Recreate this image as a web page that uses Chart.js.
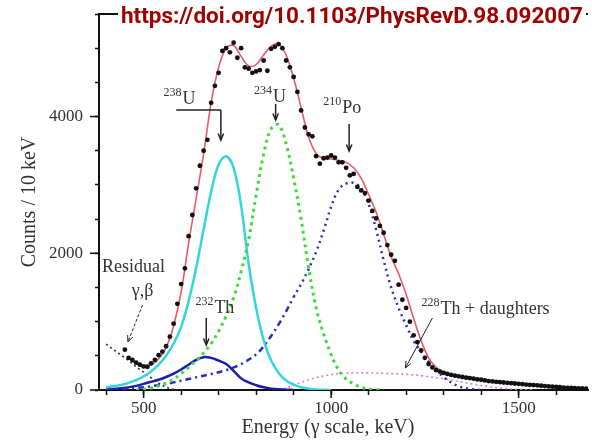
<!DOCTYPE html>
<html>
<head>
<meta charset="utf-8">
<script src="https://cdn.jsdelivr.net/npm/chart.js@4/dist/chart.umd.min.js"></script>
<style>
  html, body { margin: 0; padding: 0; background: #fff; }
  canvas { display: block; }
</style>
</head>
<body>
<canvas id="spectrum" width="592" height="445"></canvas>
<script>
const ctx = document.getElementById('spectrum')

// measured spectrum, counts per 10 keV
const dataE = [450,460,470,480,490,500,510,520,530,540,
  550,560,570,580,590,600,610,620,630,640,
  650,660,670,680,690,700,710,720,730,740,
  750,760,770,780,790,800,810,820,830,840,
  850,860,870,880,890,900,910,920,930,940,
  950,960,970,980,990,1000,1010,1020,1030,1040,
  1050,1060,1070,1080,1090,1100,1110,1120,1130,1140,
  1150,1160,1170,1180,1190,1200,1210,1220,1230,1240,
  1250,1260,1270,1280,1290,1300,1310,1320,1330,1340,
  1350,1360,1370,1380,1390,1400,1410,1420,1430,1440,
  1450,1460,1470,1480,1490,1500,1510,1520,1530,1540,
  1550,1560,1570,1580,1590,1600,1610,1620,1630,1640,
  1650,1660,1670,1680]
const dataCounts = [590,470,440,400,370,345,340,390,440,510,
  560,640,780,970,1260,1550,1780,2250,2560,2950,
  3280,3500,3660,4200,4450,4640,4960,5000,4940,5080,
  4860,5000,4720,4700,4640,4660,4680,4820,4670,4990,
  5020,5060,5000,4820,4720,4580,4360,4090,3840,3740,
  3710,3420,3310,3390,3400,3430,3400,3330,3330,3250,
  3140,3160,2970,2920,2880,2770,2620,2510,2400,2300,
  2120,1980,1890,1540,1320,1200,1000,800,700,580,
  470,380,330,290,270,250,235,220,210,200,
  190,180,175,165,155,150,140,130,125,120,
  115,110,105,100,95,90,85,80,75,72,
  68,62,58,52,48,44,40,36,32,30,
  27,24,22,20]

// total fit
const fitE = [460,480,500,520,540,560,580,600,620,640,
  660,680,700,720,740,760,780,800,820,840,
  860,880,900,920,940,960,980,1000,1020,1040,
  1060,1080,1100,1120,1140,1160,1180,1200,1220,1240,
  1260,1280,1300,1320,1340,1360,1380,1400,1420,1440,
  1460,1480,1500,1520,1540,1560,1580,1600,1620,1640,
  1660,1680]
const fitCounts = [470,385,340,365,455,620,940,1430,2150,2800,
  3450,4200,4720,5000,5040,4880,4740,4760,4900,5030,
  5060,4900,4560,4130,3700,3460,3390,3380,3360,3330,
  3250,3100,2860,2600,2280,1950,1700,1400,1050,720,
  470,330,265,225,200,180,162,148,135,123,
  112,101,91,81,72,63,55,47,40,33,
  27,22]

// 238U component
const u238E = [400,420,440,460,480,500,520,540,560,580,600,620,640,660,680,700,720,740,760,780,800,820,840,860,880,900,920,940,960,980,1000]
const u238 = [40,55,75,105,145,200,270,370,500,680,920,1300,1780,2350,2900,3300,3420,3250,2700,1850,1200,730,430,250,140,80,40,20,8,2,0]

// 234U component
const u234E = [480,500,520,540,560,580,600,620,640,660,680,700,720,740,760,780,800,820,840,860,880,900,920,940,960,980,1000,1020,1040,1060,1080,1100,1120,1140]
const u234 = [0,10,30,60,100,160,240,330,430,540,680,860,1080,1350,1730,2200,2850,3450,3820,3880,3600,3100,2500,1790,1200,820,520,290,160,90,40,15,5,0]

// 210Po component
const po210E = [400,440,480,520,560,600,640,680,720,760,800,820,840,860,880,900,920,940,960,980,1000,1020,1040,1060,1080,1100,1120,1140,1160,1180,1200,1220,1240,1260,1280,1300,1320,1340,1360,1380,1400]
const po210 = [5,15,30,55,90,135,185,235,290,380,520,640,790,960,1150,1360,1550,1770,2020,2330,2680,2930,3020,3030,2950,2720,2350,1900,1500,1200,950,720,560,410,290,190,110,55,25,10,0]

// 232Th component
const th232E = [400,440,480,500,520,540,560,580,600,620,640,660,680,700,720,740,760,780,800,820,840,860,880,900]
const th232 = [10,25,60,90,120,150,190,240,300,370,440,480,470,430,380,280,170,110,70,40,20,10,5,0]

// 228Th + daughters component
const th228E = [860,880,900,920,940,960,980,1000,1020,1040,1060,1080,1100,1120,1140,1160,1180,1200,1220,1240,1260,1280,1300,1320,1340,1360,1380,1400,1420,1440,1460,1480,1500,1520,1540]
const th228 = [0,30,70,110,150,180,205,225,240,248,250,250,250,248,245,240,235,228,220,210,195,180,165,145,125,105,85,65,50,35,25,15,8,3,0]

// residual gamma/beta
const residE = [400,420,440,460,480,500,520,540,560,580,600]
const resid = [670,590,510,430,340,260,180,100,40,10,0]

// axis ticks
const xMinorTicks = [400,500,600,700,800,900,1000,1100,1200,1300,1400,1500,1600]
const xTicks = [500, 1000, 1500]
const yTicks = [0, 2000, 4000]

const xMin = 381
const xMax = 1685
const yMax = 5500

const pts = (xs, ys) => xs.map((x, i) => ({x: x, y: ys[i]}))

const serif = "'Liberation Serif', 'DejaVu Serif', serif"
const ink = '#333'

const line = (label, xs, ys, color, width, dash, order) => ({
    label,
    data: pts(xs, ys),
    borderColor: color,
    borderWidth: width,
    borderDash: dash,
    pointRadius: 0,
    fill: false,
    tension: 0.35,
    order
})

const poLine = line('210Po', po210E, po210, '#2c2cb8', 2.5, [2, 4], 5)
poLine.segment = {
    borderDash: c => c.p0.parsed.x < 900 ? [6, 4, 2, 4] : [2, 4]
}

const datasets = [
    {
        label: 'data',
        data: pts(dataE, dataCounts),
        showLine: false,
        pointRadius: 2.4,
        pointBackgroundColor: '#111',
        pointBorderWidth: 0,
        order: 0
    },
    line('fit', fitE, fitCounts, '#e65c66', 1.6, [], 1),
    line('238U', u238E, u238, '#33d6e0', 2.5, [], 4),
    line('234U', u234E, u234, '#3ddc3d', 3, [3, 4], 3),
    poLine,
    line('232Th', th232E, th232, '#1c1caa', 2.5, [], 6),
    line('228Th', th228E, th228, '#e07ae0', 1.6, [2, 3], 7),
    line('residual', residE, resid, '#333', 1.6, [2, 3], 8),
    line('baseline', [400, xMax], [0, 0], '#111', 1.6, [5, 3], 9)
]

// labels, arrows, titles and the doi stamp
function iso(c, sx, sy, mass, sym, x, y) {
    const px = sx.getPixelForValue(x)
    const py = sy.getPixelForValue(y)
    c.fillStyle = ink
    c.textAlign = 'left'
    c.textBaseline = 'alphabetic'
    c.font = `12px ${serif}`
    c.fillText(mass, px, py - 8)
    const w = c.measureText(mass).width
    c.font = `18px ${serif}`
    c.fillText(sym, px + w + 1, py)
}

function arrow(c, sx, sy, x0, y0, x1, y1, dash, width) {
    const a = {x: sx.getPixelForValue(x0), y: sy.getPixelForValue(y0)}
    const b = {x: sx.getPixelForValue(x1), y: sy.getPixelForValue(y1)}
    c.save()
    c.strokeStyle = '#222'
    c.lineWidth = width
    c.setLineDash(dash)
    c.beginPath()
    c.moveTo(a.x, a.y)
    c.lineTo(b.x, b.y)
    c.stroke()
    c.setLineDash([])
    const ang = Math.atan2(b.y - a.y, b.x - a.x)
    c.beginPath()
    c.moveTo(b.x - 7 * Math.cos(ang - 0.4), b.y - 7 * Math.sin(ang - 0.4))
    c.lineTo(b.x, b.y)
    c.lineTo(b.x - 7 * Math.cos(ang + 0.4), b.y - 7 * Math.sin(ang + 0.4))
    c.stroke()
    c.restore()
}

const notes = {
    id: 'notes',
    afterDraw(chart) {
        const c = chart.ctx
        const {left, top, right, bottom} = chart.chartArea
        const sx = chart.scales.x
        const sy = chart.scales.y
        c.save()

        // top frame line
        c.strokeStyle = '#111'
        c.lineWidth = 2
        c.beginPath()
        c.moveTo(left - 1, top)
        c.lineTo(right, top)
        c.stroke()

        // longer major ticks and the x tick labels
        c.lineWidth = 1.5
        c.font = `17px ${serif}`
        c.fillStyle = ink
        c.textAlign = 'center'
        c.textBaseline = 'middle'
        xTicks.forEach(v => {
            const p = sx.getPixelForValue(v)
            c.beginPath(); c.moveTo(p, bottom); c.lineTo(p, bottom + 8); c.stroke()
            c.fillText(String(v), p, bottom + 19)
        })
        yTicks.forEach(v => {
            const p = sy.getPixelForValue(v)
            c.beginPath(); c.moveTo(left, p); c.lineTo(left - 9, p); c.stroke()
        })

        iso(c, sx, sy, '238', 'U', 553, 4184)
        iso(c, sx, sy, '234', 'U', 794, 4213)
        iso(c, sx, sy, '210', 'Po', 979, 4052)
        iso(c, sx, sy, '232', 'Th', 638, 1126)
        iso(c, sx, sy, '228', 'Th + daughters', 1241, 1112)

        c.font = `18px ${serif}`
        c.fillStyle = ink
        c.textAlign = 'left'
        c.fillText('Residual', sx.getPixelForValue(389), sy.getPixelForValue(1726))
        c.textAlign = 'center'
        c.fillText('γ,β', sx.getPixelForValue(497), sy.getPixelForValue(1375))

        // 238U bracket arrow
        c.strokeStyle = '#222'
        c.lineWidth = 1.5
        c.beginPath()
        c.moveTo(sx.getPixelForValue(587), sy.getPixelForValue(4096))
        c.lineTo(sx.getPixelForValue(706), sy.getPixelForValue(4096))
        c.stroke()
        arrow(c, sx, sy, 706, 4096, 706, 3657, [], 1.5)
        arrow(c, sx, sy, 852, 4184, 852, 3950, [], 1.5)
        arrow(c, sx, sy, 1048, 3891, 1048, 3496, [], 1.5)
        arrow(c, sx, sy, 667, 1053, 667, 658, [], 1.5)
        arrow(c, sx, sy, 497, 1243, 458, 702, [3, 2], 1)
        arrow(c, sx, sy, 1270, 1053, 1198, 322, [], 1)

        // axis titles
        c.font = `20px ${serif}`
        c.fillStyle = ink
        c.textAlign = 'center'
        c.textBaseline = 'middle'
        c.fillText('Energy (γ scale, keV)', 328, 428)
        c.save()
        c.translate(30, (top + bottom) / 2)
        c.rotate(-Math.PI / 2)
        c.fillText('Counts / 10 keV', 0, 0)
        c.restore()

        // doi stamp
        const doi = 'https://doi.org/10.1103/PhysRevD.98.092007'
        c.font = "bold 22.5px Roboto, 'Liberation Sans', sans-serif"
        const w = c.measureText(doi).width
        const cx = 352
        c.fillStyle = '#fff'
        c.fillRect(cx - w / 2 - 3, 3, w + 6, 26)
        c.fillStyle = '#a00000'
        c.fillText(doi, cx, 17)
        c.restore()
    }
}

const axisFont = {family: serif, size: 17}

new Chart(ctx, {
    type: 'line',
    data: {datasets},
    options: {
        responsive: false,
        animation: false,
        devicePixelRatio: 1,
        layout: {padding: {top: 14, right: 0, left: 0, bottom: 0}},
        plugins: {
            legend: {display: false},
            tooltip: {enabled: false}
        },
        scales: {
            x: {
                type: 'linear',
                min: xMin,
                max: xMax,
                afterBuildTicks: s => { s.ticks = xMinorTicks.map(v => ({value: v})) },
                afterFit: s => { s.height = 55; s.paddingLeft = 0; s.paddingRight = 0 },
                border: {color: '#111', width: 2},
                grid: {drawOnChartArea: false, drawTicks: true, tickLength: 5, tickColor: '#111', tickWidth: 1.5},
                ticks: {
                    autoSkip: false,
                    maxRotation: 0,
                    display: false
                }
            },
            y: {
                min: 0,
                max: yMax,
                afterFit: s => { s.width = 99; s.paddingTop = 0; s.paddingBottom = 0 },
                border: {color: '#111', width: 2},
                grid: {drawOnChartArea: false, tickLength: 4, tickColor: '#111', tickWidth: 1.5},
                ticks: {
                    stepSize: 500,
                    autoSkip: false,
                    padding: 12,
                    color: ink,
                    font: axisFont,
                    callback: v => yTicks.includes(v) ? String(v) : ''
                }
            }
        }
    },
    plugins: [notes]
})
</script>
</body>
</html>
